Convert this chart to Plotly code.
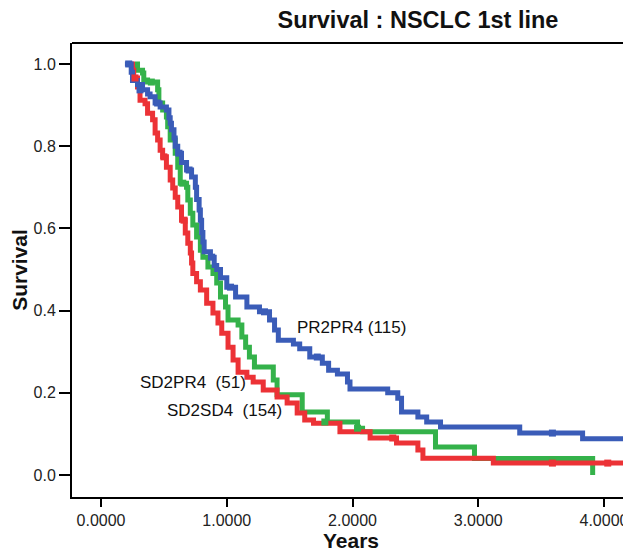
import plotly.graph_objects as go

# ---- data ----
blue_t = [0.19, 0.24, 0.25, 0.29, 0.33, 0.37, 0.39, 0.43, 0.47, 0.52, 0.54, 0.55, 0.56, 0.58, 0.59,
          0.61, 0.64, 0.68, 0.72, 0.75, 0.76, 0.78, 0.79, 0.80, 0.81, 0.82, 0.87, 0.90, 0.92, 0.95,
          1.00, 1.07, 1.16, 1.26, 1.34, 1.38, 1.41, 1.53, 1.58, 1.66, 1.76, 1.81, 1.88, 1.96, 1.98,
          2.28, 2.36, 2.39, 2.52, 2.59, 2.70, 3.33, 3.83, 4.40]
blue_s = [1.00, 0.98, 0.96, 0.95, 0.937, 0.927, 0.92, 0.905, 0.895, 0.888, 0.869, 0.856, 0.84, 0.82, 0.80,
          0.783, 0.76, 0.742, 0.725, 0.70, 0.67, 0.645, 0.62, 0.59, 0.567, 0.543, 0.53, 0.51, 0.50, 0.48,
          0.457, 0.433, 0.409, 0.397, 0.377, 0.353, 0.328, 0.319, 0.307, 0.287, 0.272, 0.255, 0.246, 0.226, 0.209,
          0.20, 0.187, 0.153, 0.141, 0.129, 0.117, 0.102, 0.088, 0.088]

green_t = [0.27, 0.29, 0.33, 0.34, 0.37, 0.45, 0.46, 0.49, 0.52, 0.53, 0.55, 0.59, 0.61, 0.63, 0.68,
           0.69, 0.71, 0.73, 0.76, 0.79, 0.81, 0.85, 0.89, 0.92, 0.95, 0.99, 1.01, 1.09, 1.12, 1.15,
           1.18, 1.22, 1.37, 1.40, 1.60, 1.80, 2.04, 2.08, 2.66, 2.97, 3.91]
green_s = [1.00, 0.985, 0.978, 0.961, 0.956, 0.937, 0.905, 0.888, 0.871, 0.847, 0.815, 0.783, 0.749, 0.71, 0.70,
           0.669, 0.637, 0.608, 0.579, 0.547, 0.53, 0.506, 0.49, 0.467, 0.433, 0.409, 0.377, 0.365, 0.336, 0.311,
           0.287, 0.263, 0.231, 0.195, 0.153, 0.129, 0.114, 0.105, 0.068, 0.040, 0.0]

red_t = [0.21, 0.25, 0.26, 0.29, 0.31, 0.35, 0.37, 0.41, 0.43, 0.45, 0.47, 0.49, 0.52, 0.55, 0.57,
         0.59, 0.61, 0.64, 0.67, 0.69, 0.71, 0.72, 0.73, 0.76, 0.79, 0.84, 0.89, 0.93, 0.96, 1.01,
         1.05, 1.09, 1.16, 1.21, 1.29, 1.40, 1.48, 1.56, 1.62, 1.69, 1.90, 2.14, 2.35, 2.52, 2.56,
         3.12, 4.40]
red_s = [1.00, 0.985, 0.966, 0.944, 0.912, 0.903, 0.88, 0.864, 0.832, 0.815, 0.79, 0.774, 0.749, 0.718, 0.698,
         0.676, 0.652, 0.62, 0.589, 0.564, 0.54, 0.516, 0.49, 0.47, 0.45, 0.418, 0.394, 0.37, 0.345, 0.311,
         0.28, 0.25, 0.238, 0.226, 0.207, 0.19, 0.175, 0.151, 0.134, 0.126, 0.105, 0.09, 0.078, 0.061, 0.041,
         0.029, 0.029]

blue_cens_t = [0.22, 0.31, 0.45, 0.62, 0.70, 0.88, 1.03, 1.30, 1.72, 3.59]
blue_cens_s = [1.00, 0.937, 0.905, 0.783, 0.742, 0.53, 0.457, 0.397, 0.287, 0.102]
green_cens_t = [0.40, 0.65, 1.78, 2.04]
green_cens_s = [0.956, 0.71, 0.129, 0.114]
red_cens_t = [0.27, 0.50, 0.66, 2.32, 3.59, 4.03]
red_cens_s = [0.966, 0.774, 0.62, 0.09, 0.029, 0.029]

labels = ["PR2PR4 (115)", "SD2PR4\u00a0\u00a0(51)", "SD2SD4\u00a0\u00a0(154)"]
label_x = [1.54, 0.29, 0.51]
label_y = [0.36, 0.226, 0.158]

x_ticks = [0, 1, 2, 3, 4]
y_ticks = [0.0, 0.2, 0.4, 0.6, 0.8, 1.0]

BLUE = "#3a5cb8"
GREEN = "#34b24a"
RED = "#ec3236"
FONT = "Liberation Sans, Arial"

fig = go.Figure()
for t, s, c, name in [(green_t, green_s, GREEN, "SD2PR4"),
                      (red_t, red_s, RED, "SD2SD4"),
                      (blue_t, blue_s, BLUE, "PR2PR4")]:
    fig.add_trace(go.Scatter(x=t, y=s, mode="lines", line=dict(color=c, width=5, shape="hv"),
                             name=name, showlegend=False))
for t, s, c in [(green_cens_t, green_cens_s, GREEN), (red_cens_t, red_cens_s, RED),
                (blue_cens_t, blue_cens_s, BLUE)]:
    fig.add_trace(go.Scatter(x=t, y=s, mode="markers",
                             marker=dict(symbol="square", size=7, color=c),
                             showlegend=False, hoverinfo="skip"))

for txt, lx, ly in zip(labels, label_x, label_y):
    fig.add_annotation(x=lx, y=ly, text=txt, showarrow=False, xanchor="left", yanchor="middle",
                       font=dict(family=FONT, size=17, color="#111"))

# frame: black top edge, faint pink right edge
fig.add_shape(type="line", xref="paper", yref="paper", x0=0, x1=1, y0=1, y1=1,
              line=dict(color="black", width=2))
fig.add_shape(type="line", xref="paper", yref="paper", x0=1, x1=1, y0=0, y1=1,
              line=dict(color="#f6c9c0", width=1))

# page has an 8px body margin, so the figure is sized/offset to compensate
fig.update_layout(
    width=623, height=544,
    margin=dict(l=64, r=1, t=35, b=55),
    paper_bgcolor="white", plot_bgcolor="white",
    title=dict(text="<b>Survival : NSCLC 1st line</b>", x=410 / 623, xanchor="center",
               y=1 - 12 / 544, yanchor="middle", font=dict(family=FONT, size=23.5, color="#111")),
    font=dict(family=FONT, size=16, color="#222"),
)
fig.update_xaxes(range=[-0.231, 4.207], tickvals=x_ticks, tickformat=".4f",
                 showline=True, linecolor="black", linewidth=2, mirror=False,
                 ticks="outside", ticklen=8, tickwidth=2, tickcolor="black",
                 showgrid=False, zeroline=False,
                 title=dict(text="<b>Years</b>", font=dict(size=21, color="#111"), standoff=3))
fig.update_yaxes(range=[-0.0535, 1.051], tickvals=y_ticks, tickformat=".1f",
                 showline=True, linecolor="black", linewidth=2, mirror=False,
                 ticks="outside", ticklen=11, tickwidth=2, tickcolor="black",
                 showgrid=False, zeroline=False,
                 title=dict(text="<b>Survival</b>", font=dict(size=21, color="#111"), standoff=4))

fig.write_html("out.html")
